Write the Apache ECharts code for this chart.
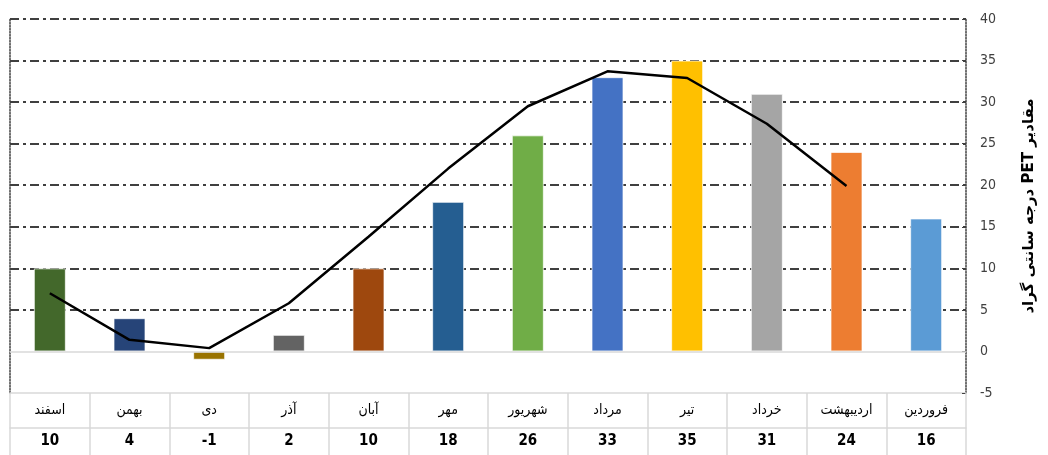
<!DOCTYPE html>
<html>
<head>
<meta charset="utf-8">
<script src="https://cdn.jsdelivr.net/npm/echarts@6/dist/echarts.min.js"></script>
<style>
html,body{margin:0;padding:0;background:#fff;}
#main{width:1048px;height:455px;}
</style>
</head>
<body>
<div id="main"></div>
<script>
// Data (listed from فروردین to اسفند; the axis is drawn right-to-left)
var months = ['فروردین','اردیبهشت','خرداد','تیر','مرداد','شهریور','مهر','آبان','آذر','دی','بهمن','اسفند'];
var barValues = [16, 24, 31, 35, 33, 26, 18, 10, 2, -1, 4, 10];
var lineValues = [null, 19.9, 27.4, 32.9, 33.7, 29.5, 22, 13.8, 5.8, 0.4, 1.4, 7.0];
var barColors = ['#5B9BD5','#ED7D31','#A5A5A5','#FFC000','#4472C4','#70AD47','#255E91','#9E480E','#636363','#997300','#264478','#43682B'];
var yTicks = { min: -5, max: 40, interval: 5 };
var yName = 'مقادیر PET درجه سانتی گراد';

var FONT = "'Liberation Sans Narrow','DejaVu Sans Condensed','DejaVu Sans',sans-serif";
var chart = echarts.init(document.getElementById('main'));
var valueMap = {};
months.forEach(function(m, i){ valueMap[m] = barValues[i]; });

var gridColors = ['rgba(0,0,0,0)','rgba(0,0,0,0)'];
for (var k = 2; k < 10; k++) gridColors.push('#000');

chart.setOption({
  animation: false,
  textStyle: { fontFamily: FONT },
  grid: { left: 10, right: 82, top: 19, bottom: 62 },
  xAxis: [{
    type: 'category',
    data: months,
    inverse: true,
    axisLine: { show: true, onZero: false, lineStyle: { color: '#d9d9d9', width: 1.5 } },
    axisTick: { show: true, interval: 0, length: 62, lineStyle: { color: '#d9d9d9', width: 1.5 } },
    axisLabel: {
      interval: 0,
      margin: 0,
      formatter: function (name) { return '{n|' + name + '}\n{v|' + valueMap[name] + '}'; },
      rich: {
        n: { lineHeight: 35, fontSize: 14, color: '#000', fontFamily: FONT },
        v: { lineHeight: 27, fontSize: 15, fontWeight: 'bold', color: '#000', fontFamily: FONT }
      }
    },
    splitLine: { show: false }
  }, {
    type: 'category',
    data: months,
    inverse: true,
    position: 'bottom',
    offset: 35,
    axisLine: { show: true, onZero: false, lineStyle: { color: '#d9d9d9', width: 1.5 } },
    axisTick: { show: false },
    axisLabel: { show: false }
  }],
  yAxis: [{
    type: 'value',
    position: 'right',
    min: yTicks.min, max: yTicks.max, interval: yTicks.interval,
    axisLine: { show: true, lineStyle: { color: '#404040', type: 'dotted', width: 1.5 } },
    axisTick: { show: true, inside: true, length: 4, lineStyle: { color: '#404040' } },
    axisLabel: { color: '#404040', fontSize: 14, margin: 14, fontFamily: FONT },
    splitLine: { show: true, lineStyle: { color: gridColors, type: [9, 4, 3, 4], width: 1.5 } },
    name: '\u202B' + yName + '\u202C',
    nameLocation: 'middle',
    nameRotate: 90,
    nameGap: 56,
    nameTextStyle: { fontSize: 15, fontWeight: 'bold', color: '#000', fontFamily: "'DejaVu Sans',sans-serif" }
  }, {
    type: 'value',
    position: 'left',
    min: yTicks.min, max: yTicks.max, interval: yTicks.interval,
    axisLine: { show: true, lineStyle: { color: '#404040', type: 'dotted', width: 1.5 } },
    axisTick: { show: false },
    axisLabel: { show: false },
    splitLine: { show: false }
  }],
  series: [{
    type: 'bar',
    barWidth: 32,
    data: barValues.map(function (v, i) {
      return { value: v, itemStyle: { color: barColors[i] } };
    }),
    itemStyle: { borderColor: 'rgba(255,255,255,0.7)', borderWidth: 1 },
    markLine: {
      silent: true, symbol: 'none', label: { show: false },
      lineStyle: { color: '#d9d9d9', type: 'solid', width: 1.5 },
      data: [{ yAxis: 0 }]
    },
    z: 2
  }, {
    type: 'line',
    data: lineValues,
    symbol: 'none',
    lineStyle: { color: '#000', width: 2.5 },
    connectNulls: false,
    z: 3
  }]
});
</script>
</body>
</html>
